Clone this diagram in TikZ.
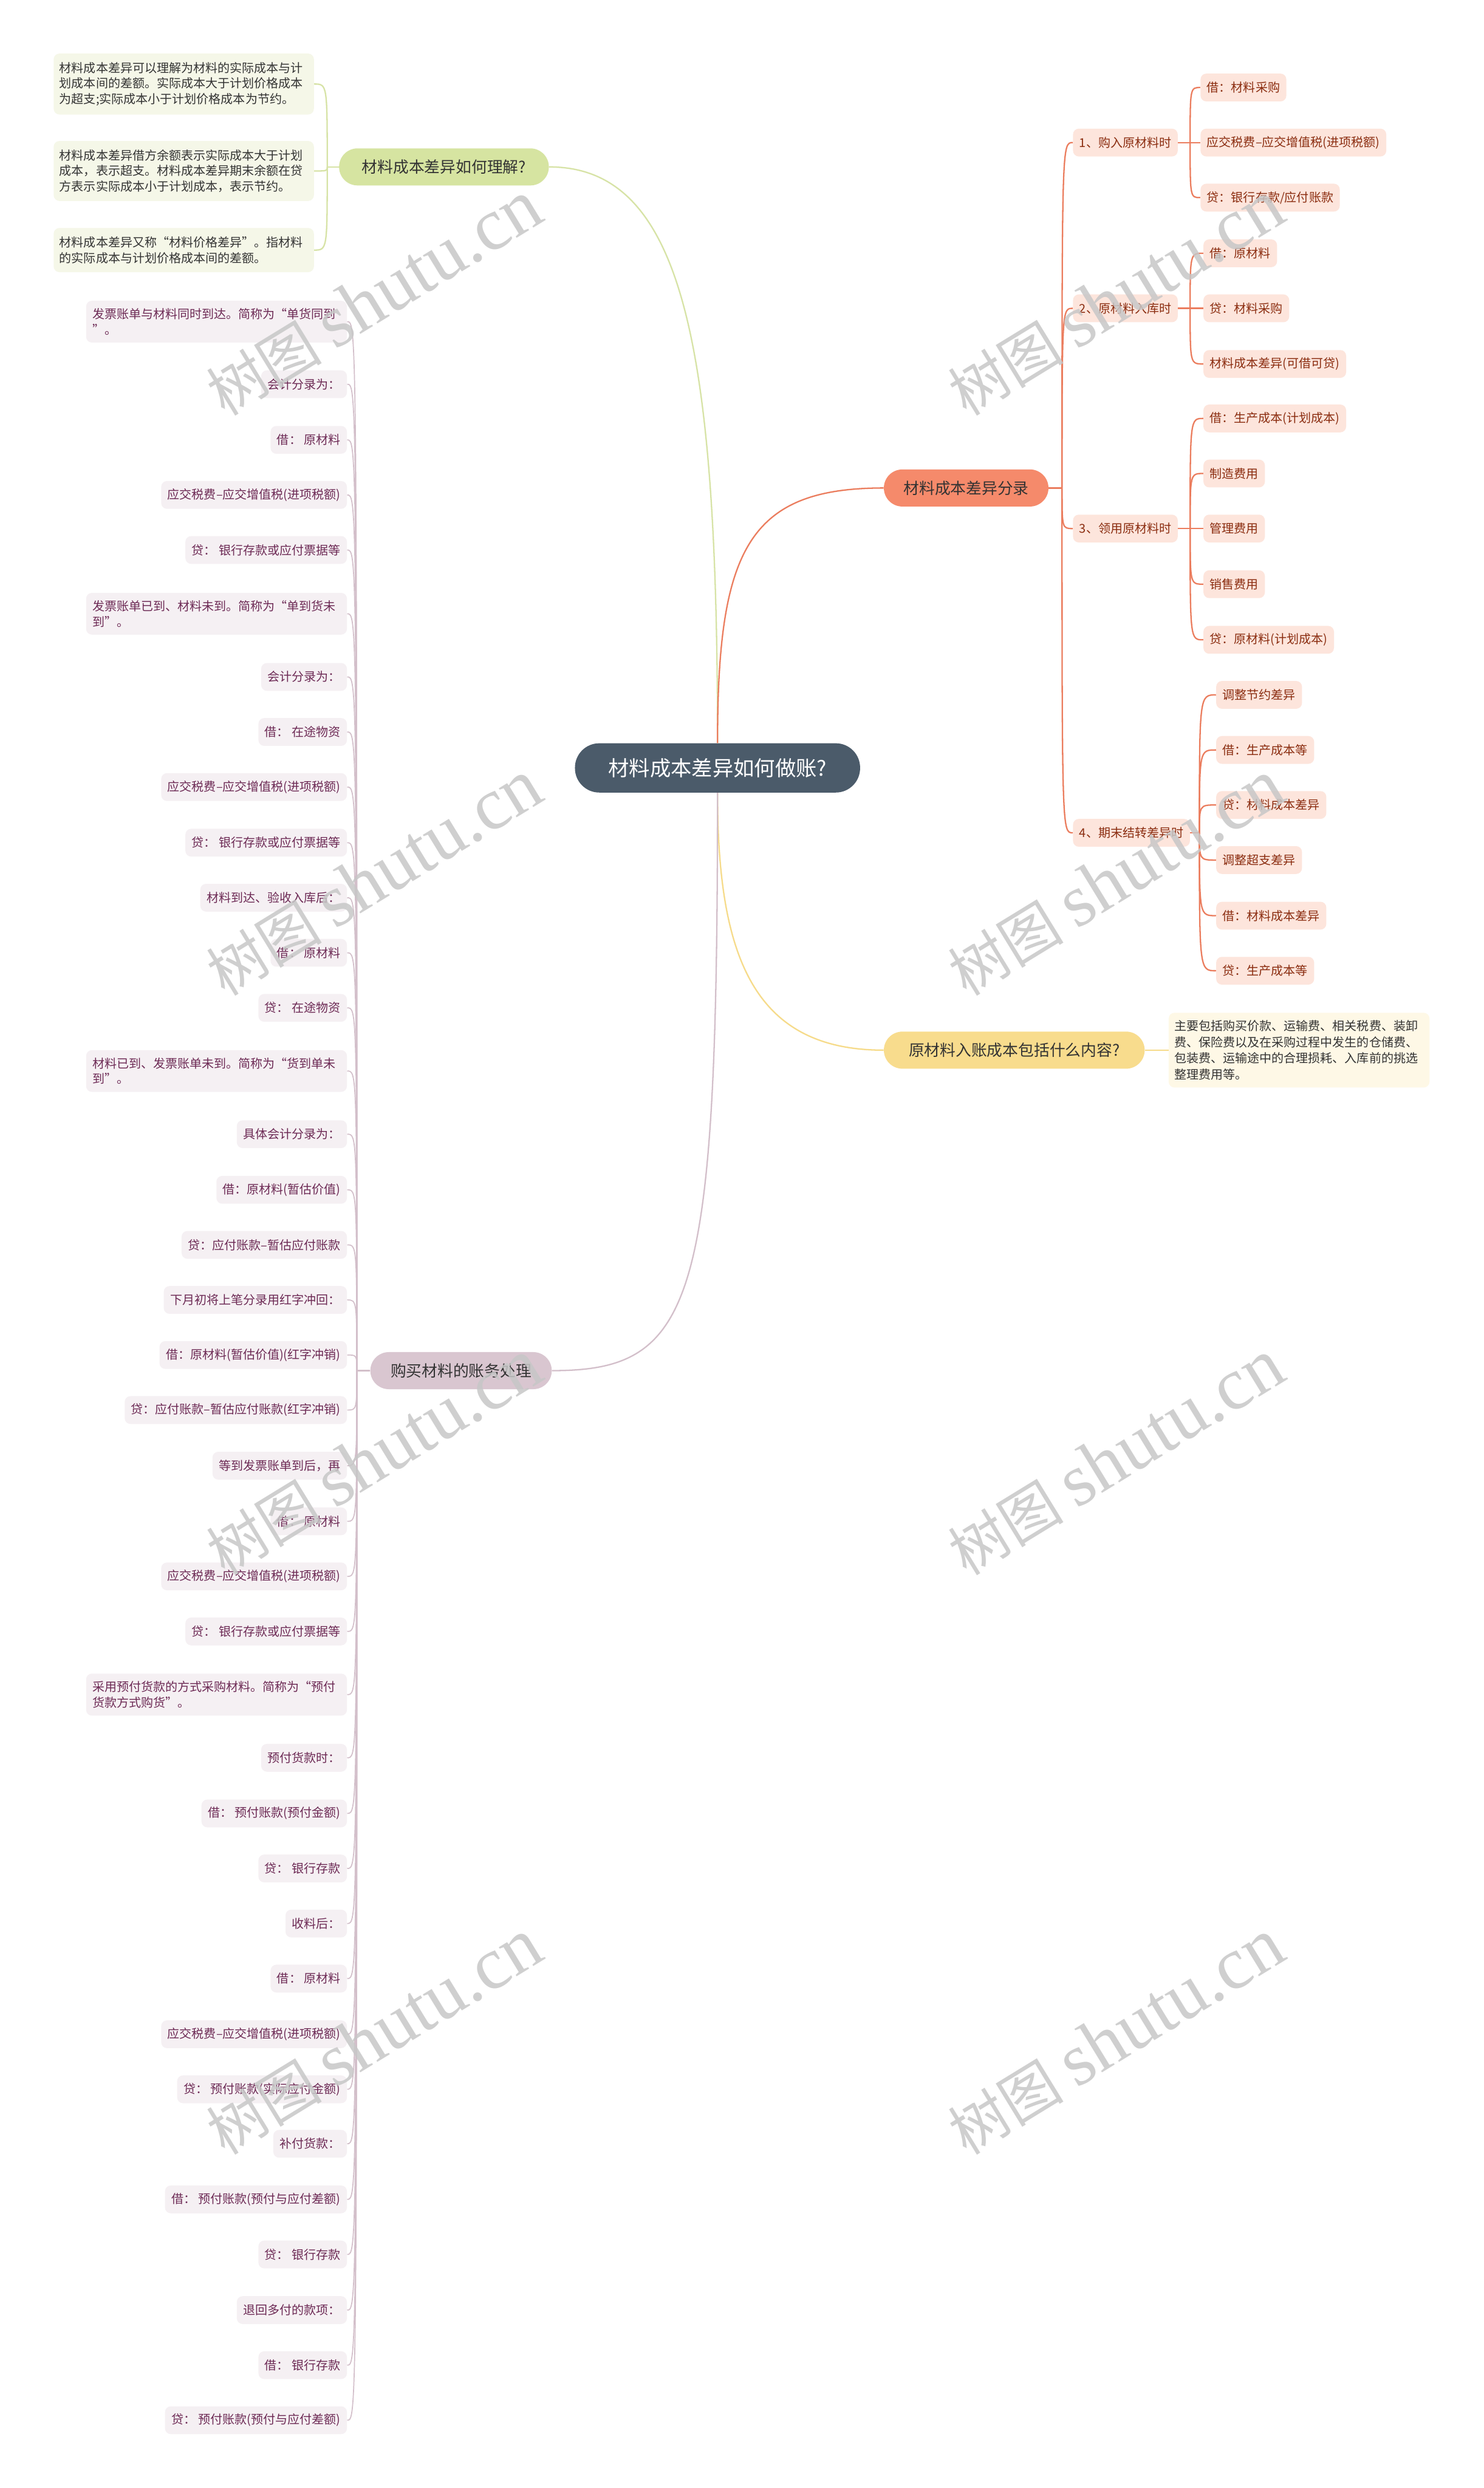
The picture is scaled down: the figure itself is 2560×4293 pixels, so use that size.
\documentclass[tikz,border=0pt]{standalone}
\usepackage{fontspec}
\setmainfont{Noto Sans CJK SC}
\newfontfamily\wmlatin{Liberation Serif}
\definecolor{rootbg}{HTML}{4B5B6A}
\definecolor{gbg}{HTML}{D6E4A1}
\definecolor{gline}{HTML}{D7E3A6}
\definecolor{gnotebg}{HTML}{F5F7E8}
\definecolor{obg}{HTML}{F58A6B}
\definecolor{oline}{HTML}{EB7D5E}
\definecolor{oleaf}{HTML}{FDE5DC}
\definecolor{otext}{HTML}{8B2D10}
\definecolor{ybg}{HTML}{F8DC8D}
\definecolor{yline}{HTML}{F6DB8A}
\definecolor{ynotebg}{HTML}{FEF8E6}
\definecolor{lbg}{HTML}{D9C6D0}
\definecolor{lline}{HTML}{D3BFCA}
\definecolor{lleaf}{HTML}{F5F0F3}
\definecolor{ltext}{HTML}{6D2A55}
\definecolor{dtext}{HTML}{333333}
\tikzset{
  rootnode/.style={fill=rootbg, text=white, rounded corners=21pt, minimum width=246pt, minimum height=42.5pt, inner sep=0pt, font=\fontsize{18pt}{22pt}\selectfont},
  mainnode/.style={rounded corners=16pt, minimum height=32pt, inner sep=0pt, text=dtext, font=\fontsize{13.5pt}{16pt}\selectfont},
  leafR/.style={fill=oleaf, text=otext, rounded corners=5pt, minimum height=24pt, inner xsep=5.5pt, inner ysep=0pt, anchor=west, font=\fontsize{10.5pt}{13pt}\selectfont},
  leafL/.style={fill=lleaf, text=ltext, rounded corners=5pt, minimum height=24pt, inner xsep=5.5pt, inner ysep=0pt, anchor=east, font=\fontsize{10.5pt}{13pt}\selectfont},
  leafLL/.style={leafL, text width=214pt, align=left, inner ysep=6.5pt, font=\fontsize{10.5pt}{13.5pt}\selectfont},
  gnote/.style={fill=gnotebg, text=dtext, rounded corners=5pt, text width=214.5pt, align=left, inner xsep=5pt, inner ysep=7.5pt, anchor=east, font=\fontsize{10.5pt}{13.35pt}\selectfont},
  ynote/.style={fill=ynotebg, text=dtext, rounded corners=5pt, text width=215pt, align=left, inner xsep=5pt, inner ysep=6.5pt, anchor=west, font=\fontsize{10.5pt}{13.9pt}\selectfont},
  gconn/.style={draw=gline, line width=1.2pt},
  oconn/.style={draw=oline, line width=1.2pt},
  yconn/.style={draw=yline, line width=1.2pt},
  lconn/.style={draw=lline, line width=0.9pt},
  wm/.style={text=black!22, text opacity=0.85, rotate=31.5, inner sep=0pt}
}
\begin{document}
\begin{tikzpicture}[x=0.5pt,y=-0.5pt]
\useasboundingbox (0,0) rectangle (2560,4293);
\fill[white] (0,0) rectangle (2560,4293);

% ---- root and main branches
\node[rootnode] (R) at (1238,1325) {材料成本差异如何做账?};
\node[mainnode, fill=gbg, minimum width=181pt] (G) at (766,288) {材料成本差异如何理解?};
\node[mainnode, fill=obg, minimum width=142pt] (O) at (1667,842) {材料成本差异分录};
\node[mainnode, fill=ybg, minimum width=225pt] (Y) at (1750,1812) {原材料入账成本包括什么内容?};
\node[mainnode, fill=lbg, minimum width=156.5pt] (P) at (795.5,2365) {购买材料的账务处理};

\draw[gconn] (R.north) .. controls (1238,600) and (1180,288) .. (G.east);
\draw[oconn] (R.north) .. controls (1238,950) and (1290,842) .. (O.west);
\draw[yconn] (R.south) .. controls (1238,1650) and (1300,1812) .. (Y.west);
\draw[lconn, line width=1.2pt] (R.south) .. controls (1238,2250) and (1200,2365) .. (P.east);

% ---- green notes
\node[gnote] (N1) at (542,145) {材料成本差异可以理解为材料的实际成本与计\\划成本间的差额。实际成本大于计划价格成本\\为超支;实际成本小于计划价格成本为节约。};
\node[gnote] (N2) at (542,295) {材料成本差异借方余额表示实际成本大于计划\\成本，表示超支。材料成本差异期末余额在贷\\方表示实际成本小于计划成本，表示节约。};
\node[gnote] (N3) at (542,431.5) {材料成本差异又称“材料价格差异”。指材料\\的实际成本与计划价格成本间的差额。};
\draw[gconn] (G.west) -- ++(-20,0) coordinate (jG);
\foreach \n in {N1,N2,N3}
  \draw[gconn] (jG) .. controls (jG |- \n.east) and (jG |- \n.east) .. (\n.east);

% ---- orange branch
\node[leafR] (S1) at (1851,246) {1、购入原材料时};
\node[leafR] (S2) at (1851,532) {2、原材料入库时};
\node[leafR] (S3) at (1851,912) {3、领用原材料时};
\node[leafR] (S4) at (1851,1437) {4、期末结转差异时};
\draw[oconn] (O.east) -- ++(23,0) coordinate (jO);
\foreach \n in {S1,S2,S3,S4}
  \draw[oconn] (jO) .. controls (jO |- \n.west) and (jO |- \n.west) .. (\n.west);

\node[leafR] (A1) at (2071,151) {借：材料采购};
\node[leafR] (A2) at (2071,246) {应交税费–应交增值税(进项税额)};
\node[leafR] (A3) at (2071,341) {贷：银行存款/应付账款};
\node[leafR] (B1) at (2076,437) {借：原材料};
\node[leafR] (B2) at (2076,532) {贷：材料采购};
\node[leafR] (B3) at (2076,628) {材料成本差异(可借可贷)};
\node[leafR] (C1) at (2076,722) {借：生产成本(计划成本)};
\node[leafR] (C2) at (2076,817) {制造费用};
\node[leafR] (C3) at (2076,912) {管理费用};
\node[leafR] (C4) at (2076,1008) {销售费用};
\node[leafR] (C5) at (2076,1104) {贷：原材料(计划成本)};
\node[leafR] (D1) at (2098,1199) {调整节约差异};
\node[leafR] (D2) at (2098,1294) {借：生产成本等};
\node[leafR] (D3) at (2098,1389) {贷：材料成本差异};
\node[leafR] (D4) at (2098,1484) {调整超支差异};
\node[leafR] (D5) at (2098,1580) {借：材料成本差异};
\node[leafR] (D6) at (2098,1675) {贷：生产成本等};

\draw[oconn] (S1.east) -- ++(21,0) coordinate (j1);
\draw[oconn] (S2.east) -- ++(21,0) coordinate (j2);
\draw[oconn] (S3.east) -- ++(21,0) coordinate (j3);
\draw[oconn] (S4.east) -- ++(16,0) coordinate (j4);
\foreach \n in {A1,A2,A3}
  \draw[oconn] (j1) .. controls (j1 |- \n.west) and (j1 |- \n.west) .. (\n.west);
\foreach \n in {B1,B2,B3}
  \draw[oconn] (j2) .. controls (j2 |- \n.west) and (j2 |- \n.west) .. (\n.west);
\foreach \n in {C1,C2,C3,C4,C5}
  \draw[oconn] (j3) .. controls (j3 |- \n.west) and (j3 |- \n.west) .. (\n.west);
\foreach \n in {D1,D2,D3,D4,D5,D6}
  \draw[oconn] (j4) .. controls (j4 |- \n.west) and (j4 |- \n.west) .. (\n.west);

% ---- yellow branch
\node[ynote] (YN) at (2016,1812) {主要包括购买价款、运输费、相关税费、装卸\\费、保险费以及在采购过程中发生的仓储费、\\包装费、运输途中的合理损耗、入库前的挑选\\整理费用等。};
\draw[yconn] (Y.east) -- (YN.west);

% ---- lavender branch
\node[leafLL] (L1) at (599,555) {发票账单与材料同时到达。简称为“单货同到\\”。};
\node[leafL] (L2) at (599,663) {会计分录为：};
\node[leafL] (L3) at (599,759) {借： 原材料};
\node[leafL] (L4) at (599,854) {应交税费–应交增值税(进项税额)};
\node[leafL] (L5) at (599,949) {贷： 银行存款或应付票据等};
\node[leafLL] (L6) at (599,1059) {发票账单已到、材料未到。简称为“单到货未\\到”。};
\node[leafL] (L7) at (599,1168) {会计分录为：};
\node[leafL] (L8) at (599,1263) {借： 在途物资};
\node[leafL] (L9) at (599,1358) {应交税费–应交增值税(进项税额)};
\node[leafL] (L10) at (599,1454) {贷： 银行存款或应付票据等};
\node[leafL] (L11) at (599,1549) {材料到达、验收入库后：};
\node[leafL] (L12) at (599,1644) {借： 原材料};
\node[leafL] (L13) at (599,1739) {贷： 在途物资};
\node[leafLL] (L14) at (599,1848) {材料已到、发票账单未到。简称为“货到单未\\到”。};
\node[leafL] (L15) at (599,1957) {具体会计分录为：};
\node[leafL] (L16) at (599,2053) {借：原材料(暂估价值)};
\node[leafL] (L17) at (599,2148) {贷：应付账款–暂估应付账款};
\node[leafL] (L18) at (599,2243) {下月初将上笔分录用红字冲回：};
\node[leafL] (L19) at (599,2338) {借：原材料(暂估价值)(红字冲销)};
\node[leafL] (L20) at (599,2433) {贷：应付账款–暂估应付账款(红字冲销)};
\node[leafL] (L21) at (599,2529) {等到发票账单到后，再};
\node[leafL] (L22) at (599,2625) {借： 原材料};
\node[leafL] (L23) at (599,2720) {应交税费–应交增值税(进项税额)};
\node[leafL] (L24) at (599,2815) {贷： 银行存款或应付票据等};
\node[leafLL] (L25) at (599,2924) {采用预付货款的方式采购材料。简称为“预付\\货款方式购货”。};
\node[leafL] (L26) at (599,3033) {预付货款时：};
\node[leafL] (L27) at (599,3129) {借： 预付账款(预付金额)};
\node[leafL] (L28) at (599,3224) {贷： 银行存款};
\node[leafL] (L29) at (599,3319) {收料后：};
\node[leafL] (L30) at (599,3414) {借： 原材料};
\node[leafL] (L31) at (599,3510) {应交税费–应交增值税(进项税额)};
\node[leafL] (L32) at (599,3605) {贷： 预付账款(实际应付金额)};
\node[leafL] (L33) at (599,3699) {补付货款：};
\node[leafL] (L34) at (599,3795) {借： 预付账款(预付与应付差额)};
\node[leafL] (L35) at (599,3890) {贷： 银行存款};
\node[leafL] (L36) at (599,3986) {退回多付的款项：};
\node[leafL] (L37) at (599,4081) {借： 银行存款};
\node[leafL] (L38) at (599,4176) {贷： 预付账款(预付与应付差额)};
\draw[lconn, line width=1.2pt] (P.west) -- ++(-23,0) coordinate (jL);
\foreach \i in {1,...,38}
  \draw[lconn] (jL) .. controls (jL |- L\i.east) and (jL |- L\i.east) .. (L\i.east);

% ---- watermarks
\foreach \wx in {645,1925}
  \foreach \wy in {515,1515,2515,3515}
    \node[wm] (wm-\wx-\wy) at (\wx,\wy) {\fontsize{50pt}{50pt}\selectfont 树图 {\wmlatin\fontsize{64pt}{64pt}\selectfont shutu.cn}};
\end{tikzpicture}
\end{document}
